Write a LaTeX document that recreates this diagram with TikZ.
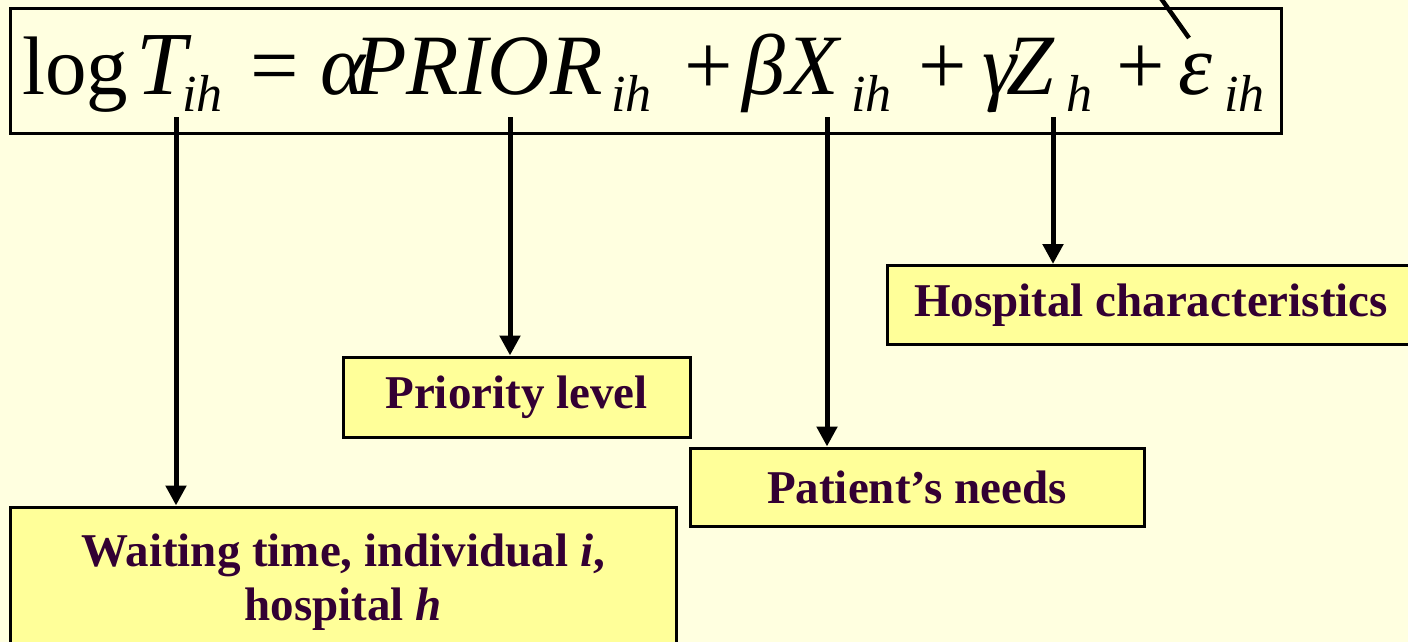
\documentclass[tikz,border=0pt]{standalone}
\usepackage{fontspec}
\setmainfont{Liberation Serif}
\usetikzlibrary{arrows.meta}
\definecolor{bgc}{HTML}{FFFFE0}
\definecolor{boxc}{HTML}{FFFF99}
\definecolor{txtc}{HTML}{330033}
\newcommand\myeqfont{\fontsize{86}{90}\selectfont}
\newcommand\mylogfont{\fontsize{83}{90}\selectfont}
\newcommand\mybigfont{\fontsize{90}{94}\selectfont\itshape}
\newcommand\mysubfont{\fontsize{52}{54}\selectfont\itshape}
\newcommand\mylblfont{\fontsize{47}{52}\selectfont\bfseries}
\begin{document}
\begin{tikzpicture}[x=1pt,y=-1pt,
  eq/.style={anchor=base west, inner sep=0pt, font=\myeqfont},
  eqi/.style={eq, font=\myeqfont\itshape},
  sub/.style={anchor=base west, inner sep=0pt, font=\mysubfont},
  lbl/.style={draw=black, line width=3pt, fill=boxc, text=txtc, font=\mylblfont, inner sep=0pt, align=center},
  arr/.style={line width=5pt, -{Triangle[width=20pt,length=20pt]}}]
\useasboundingbox (0,0) rectangle (1408,642);
\clip (0,0) rectangle (1408,642);
\fill[bgc] (0,0) rectangle (1408,642);
% equation box
\node[draw=black, line width=3pt, minimum width=1271pt, minimum height=124pt, inner sep=0pt] (eqbox) at (646,71) {};
% equation pieces
\node[eq, font=\mylogfont]  (e1)  at (22,95)   {log};
\node[eq, font=\mybigfont] (e2)  at (136,95)  {T};
\node[sub] (e3)  at (182,111) {ih};
\node[eq]  (e4)  at (250,95)  {=};
\node[eqi] (e5)  at (320,95)  {α};
\node[eqi] (e6)  at (354,95)  {PRIOR};
\node[sub] (e7)  at (611,111) {ih};
\node[eq]  (e8)  at (684,95)  {+};
\node[eqi] (e9)  at (742,95)  {β};
\node[eqi] (e10) at (786,95)  {X};
\node[sub] (e11) at (851,111) {ih};
\node[eq]  (e12) at (918,95)  {+};
\node[eqi] (e13) at (982,95)  {γ};
\node[eqi] (e14) at (1006,95) {Z};
\node[sub] (e15) at (1066,111) {h};
\node[eq]  (e16) at (1116,95) {+};
\node[eqi] (e17) at (1178,95) {ε};
\node[sub] (e18) at (1224,111) {ih};
% label boxes
\node[lbl, minimum width=528pt, minimum height=79pt] (hosp) at (1151,305) {Hospital characteristics};
\node[lbl, minimum width=347pt, minimum height=80pt] (prio) at (516.5,397) {Priority level};
\node[lbl, minimum width=454pt, minimum height=78pt] (pat) at (917,487) {Patient’s needs};
\node[lbl, minimum width=666pt, minimum height=150pt] (wait) at (343,582) {Waiting time, individual \textit{i},\\[2pt] hospital \textit{h}};
% arrow starts
\coordinate (a1) at (176,117);
\coordinate (a2) at (510,117);
\coordinate (a3) at (827,117);
\coordinate (a4) at (1053,117);
\coordinate (q1) at (1189,38);
\coordinate (q2) at (1160,-3);
\draw[arr] (a1) -- (wait.north -| a1);
\draw[arr] (a2) -- (prio.north -| a2);
\draw[arr] (a3) -- (pat.north -| a3);
\draw[arr] (a4) -- (hosp.north -| a4);
\draw[line width=4.5pt] (q1) -- (q2);
\end{tikzpicture}
\end{document}
